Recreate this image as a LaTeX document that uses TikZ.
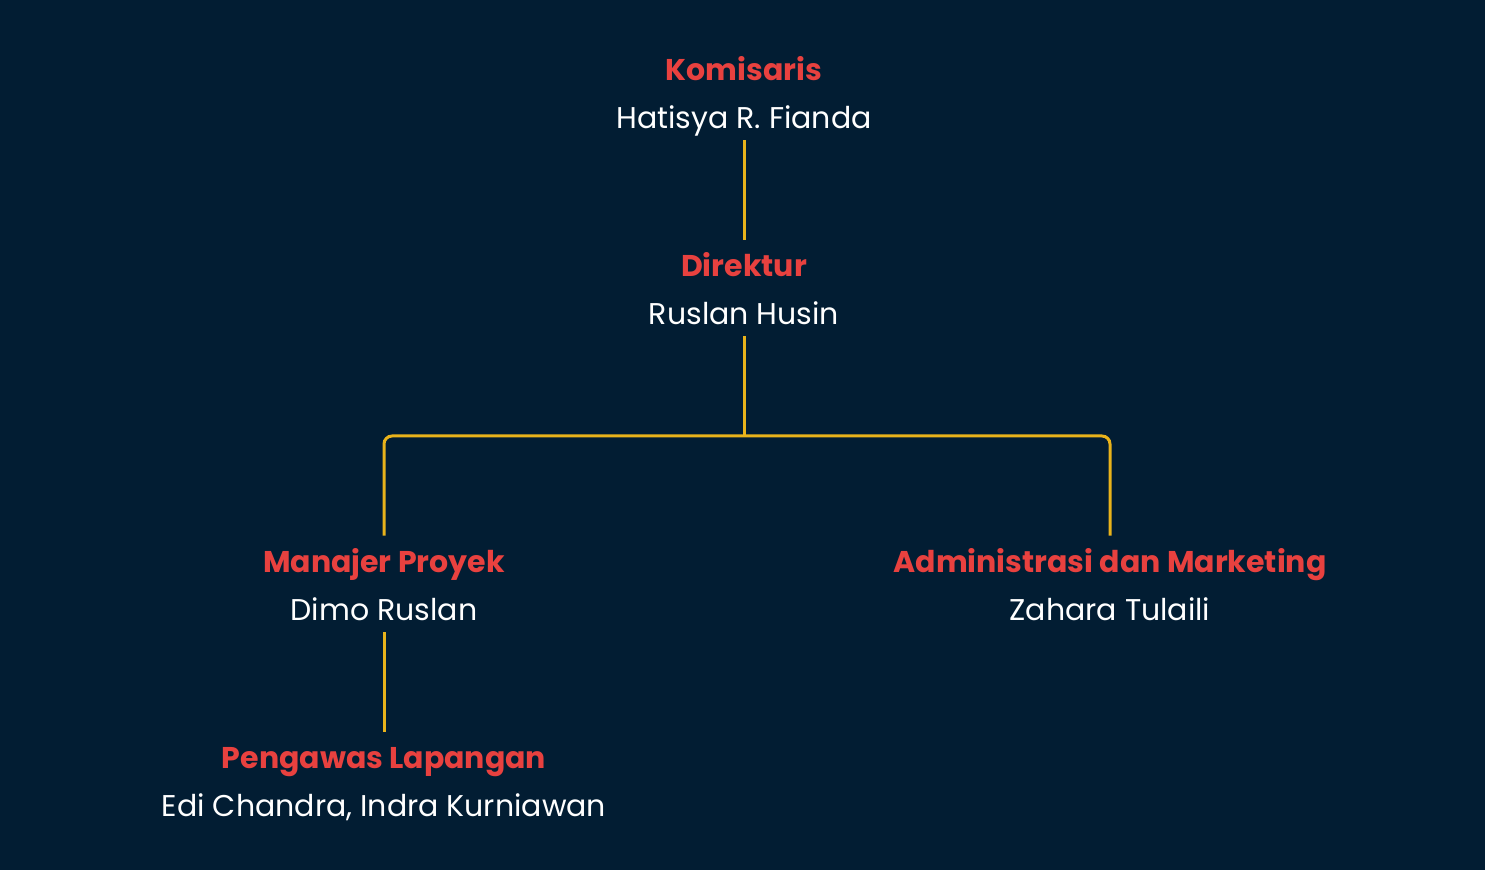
\documentclass[tikz,border=0pt]{standalone}
\usepackage{fontspec}
\setmainfont{Poppins}
\usepackage{xcolor}
\usetikzlibrary{positioning,calc}

\definecolor{bgnavy}{HTML}{021D33}
\definecolor{rolered}{HTML}{E8413F}
\definecolor{linegold}{HTML}{E9B31B}

\tikzset{
    role/.style={inner sep=0pt, text height=12.5pt, text depth=0pt, minimum height=24pt,
        font=\fontsize{15}{18}\selectfont\bfseries, text=rolered},
    person/.style={inner sep=0pt, text height=12.5pt, text depth=0pt, minimum height=24pt,
        font=\fontsize{15}{18}\selectfont, text=white},
    conn/.style={draw=linegold, line width=1.5pt, rounded corners=4pt}
}

\begin{document}
\begin{tikzpicture}[x=0.5pt, y=-0.5pt]
    \fill[bgnavy] (0,0) rectangle (1485,870);
    \useasboundingbox (0,0) rectangle (1485,870);

    % komisaris
    \node[role] (kom) at (744,68) {Komisaris};
    \node[person] (komname) at (744,116) {Hatisya R. Fianda};

    % direktur
    \node[role] (dir) at (744,264) {Direktur};
    \node[person] (dirname) at (744,312) {Ruslan Husin};

    % manajer and admin
    \node[role] (mp) at (384,560) {Manajer Proyek};
    \node[person] (mpname) at (384,608) {Dimo Ruslan};
    \node[role] (adm) at (1110,560) {Administrasi dan Marketing};
    \node[person] (admname) at (1110,608) {Zahara Tulaili};

    % pengawas
    \node[role] (pl) at (384,756) {Pengawas Lapangan};
    \node[person] (plname) at (384,804) {Edi Chandra, Indra Kurniawan};

    \coordinate (split) at (744,436);

    \draw[conn] (komname.south) -- (dir.north);
    \draw[conn] (dirname.south) -- (split);
    \draw[conn] (mp.north) |- (split) -| (adm.north);
    \draw[conn] (mpname.south) -- (pl.north);
\end{tikzpicture}
\end{document}
